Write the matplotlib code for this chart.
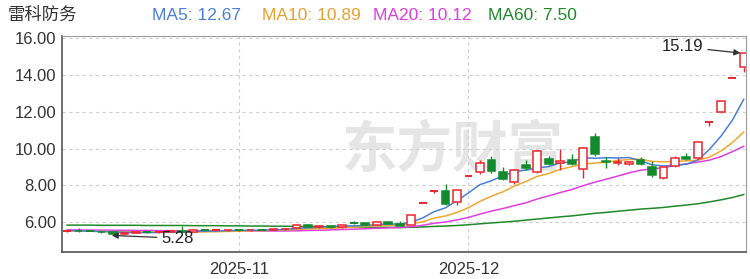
import matplotlib
matplotlib.use("Agg")
import matplotlib.pyplot as plt

# 日K数据 (开, 高, 低, 收)
opens = [5.50, 5.53, 5.50, 5.48, 5.45, 5.36, 5.42, 5.46, 5.44, 5.47,
         5.52, 5.48, 5.56, 5.53, 5.55, 5.58, 5.56, 5.60, 5.58, 5.62,
         5.68, 5.86, 5.72, 5.78, 5.72, 5.93, 5.95, 5.84, 6.00, 5.90,
         5.86, 7.02, 7.72, 7.68, 7.08, 8.50, 8.70, 9.40, 8.72, 8.18,
         9.10, 8.70, 9.45, 9.20, 9.40, 8.88, 10.65, 9.32, 9.22, 9.14,
         9.38, 9.00, 8.38, 9.03, 9.55, 9.50, 11.42, 12.00, 13.82, 14.45]
highs = [5.55, 5.68, 5.53, 5.50, 5.47, 5.46, 5.49, 5.48, 5.50, 5.58,
         5.78, 5.60, 5.58, 5.58, 5.60, 5.60, 5.63, 5.62, 5.65, 5.68,
         5.92, 5.90, 5.82, 5.80, 5.86, 6.08, 5.98, 6.06, 6.04, 6.05,
         6.38, 7.02, 7.72, 8.06, 7.76, 8.50, 9.35, 9.62, 8.97, 8.90,
         9.40, 9.90, 9.58, 9.95, 9.68, 10.10, 10.86, 9.52, 9.48, 9.32,
         9.55, 9.30, 9.00, 9.62, 9.78, 10.38, 11.42, 12.56, 13.82, 15.19]
lows = [5.47, 5.48, 5.46, 5.42, 5.28, 5.32, 5.40, 5.41, 5.42, 5.45,
        5.46, 5.46, 5.50, 5.50, 5.52, 5.53, 5.54, 5.55, 5.56, 5.58,
        5.66, 5.72, 5.70, 5.70, 5.70, 5.86, 5.82, 5.82, 5.88, 5.78,
        5.84, 7.02, 7.60, 6.95, 6.92, 8.50, 8.62, 8.65, 8.30, 8.05,
        8.85, 8.65, 9.10, 8.85, 9.10, 8.40, 9.57, 8.92, 9.12, 9.10,
        9.12, 8.43, 8.35, 9.00, 9.38, 9.45, 11.25, 11.95, 13.82, 14.18]
closes = [5.52, 5.50, 5.48, 5.45, 5.38, 5.43, 5.46, 5.44, 5.47, 5.50,
          5.48, 5.56, 5.53, 5.55, 5.58, 5.56, 5.60, 5.58, 5.62, 5.65,
          5.86, 5.75, 5.78, 5.74, 5.82, 5.90, 5.85, 6.02, 5.92, 5.80,
          6.38, 7.02, 7.72, 7.00, 7.73, 8.50, 9.24, 8.76, 8.35, 8.86,
          8.92, 9.84, 9.15, 9.32, 9.15, 10.05, 9.70, 9.28, 9.26, 9.28,
          9.18, 8.58, 8.97, 9.51, 9.45, 10.38, 11.42, 12.56, 13.82, 15.19]

# 均线
ma5 = [5.55, 5.53, 5.51, 5.49, 5.47, 5.45, 5.44, 5.43, 5.44, 5.46,
       5.47, 5.49, 5.51, 5.52, 5.54, 5.56, 5.56, 5.57, 5.59, 5.60,
       5.66, 5.69, 5.73, 5.76, 5.79, 5.80, 5.82, 5.87, 5.90, 5.90,
       5.99, 6.23, 6.57, 6.78, 7.17, 7.59, 8.04, 8.25, 8.52, 8.74,
       8.83, 8.95, 9.02, 9.22, 9.28, 9.50, 9.47, 9.50, 9.49, 9.51,
       9.34, 9.12, 9.05, 9.10, 9.14, 9.38, 9.95, 10.66, 11.53, 12.67]
ma10 = [5.52, 5.52, 5.51, 5.50, 5.49, 5.48, 5.47, 5.47, 5.46, 5.46,
        5.46, 5.47, 5.47, 5.48, 5.50, 5.51, 5.53, 5.54, 5.56, 5.57,
        5.61, 5.63, 5.65, 5.67, 5.70, 5.73, 5.76, 5.80, 5.83, 5.84,
        5.90, 6.02, 6.22, 6.34, 6.53, 6.79, 7.13, 7.41, 7.65, 7.96,
        8.21, 8.49, 8.64, 8.87, 9.01, 9.16, 9.21, 9.26, 9.35, 9.40,
        9.42, 9.30, 9.28, 9.30, 9.33, 9.36, 9.53, 9.86, 10.32, 10.89]
ma20 = [5.58, 5.58, 5.57, 5.57, 5.56, 5.56, 5.55, 5.55, 5.54, 5.54,
        5.53, 5.53, 5.53, 5.52, 5.52, 5.52, 5.52, 5.52, 5.52, 5.52,
        5.53, 5.55, 5.56, 5.58, 5.60, 5.62, 5.64, 5.67, 5.69, 5.71,
        5.75, 5.83, 5.94, 6.01, 6.12, 6.26, 6.44, 6.60, 6.74, 6.90,
        7.05, 7.26, 7.43, 7.61, 7.77, 7.98, 8.17, 8.33, 8.50, 8.68,
        8.82, 8.89, 8.96, 9.08, 9.17, 9.26, 9.37, 9.56, 9.83, 10.12]
ma60 = [5.84, 5.84, 5.84, 5.83, 5.83, 5.83, 5.83, 5.82, 5.82, 5.82,
        5.82, 5.81, 5.81, 5.81, 5.80, 5.80, 5.79, 5.79, 5.78, 5.78,
        5.77, 5.76, 5.76, 5.75, 5.74, 5.73, 5.73, 5.72, 5.72, 5.71,
        5.72, 5.74, 5.77, 5.79, 5.82, 5.86, 5.91, 5.96, 6.00, 6.05,
        6.11, 6.17, 6.23, 6.29, 6.34, 6.41, 6.48, 6.53, 6.59, 6.65,
        6.71, 6.75, 6.80, 6.87, 6.93, 7.00, 7.10, 7.21, 7.34, 7.50]

month_pos = [15, 35]
month_labels = ["2025-11", "2025-12"]
y_ticks = [6, 8, 10, 12, 14, 16]

RED = "#e8262d"
GREEN = "#138a2e"
FONT = ["Liberation Sans", "Noto Sans CJK SC", "DejaVu Sans"]
plt.rcParams["font.family"] = FONT

fig = plt.figure(figsize=(7.5, 2.79), dpi=100)
ax = fig.add_axes([0.0827, 0.0968, 0.912, 0.774])

# 水印
ax.text(33.6, 9.85, "东方财富", fontsize=40, fontweight="bold", color="#e5e5e5",
        ha="center", va="center", zorder=0, family=["Noto Sans CJK SC"])

# 网格
for y in y_ticks:
    ax.axhline(y, color="#cfcfcf", lw=0.8, ls=(0, (3, 3)), zorder=1)
for x in month_pos:
    ax.axvline(x, color="#cfcfcf", lw=0.8, ls=(0, (3, 3)), zorder=1)

# 均线
xs = list(range(len(closes)))
ax.plot(xs, ma60, color="#1f8a2a", lw=1.1, zorder=2)
ax.plot(xs, ma20, color="#e03ee0", lw=1.1, zorder=2)
ax.plot(xs, ma10, color="#f0a830", lw=1.1, zorder=2)
ax.plot(xs, ma5, color="#4a7fd6", lw=1.1, zorder=2)

# K线
w = 0.68
for i in xs:
    o, h, l, c = opens[i], highs[i], lows[i], closes[i]
    up = c >= o
    col = RED if up else GREEN
    lo_b, hi_b = min(o, c), max(o, c)
    ax.vlines(i, l, lo_b, color=col, lw=1, zorder=3)
    ax.vlines(i, hi_b, h, color=col, lw=1, zorder=3)
    height = hi_b - lo_b
    if height < 0.03:
        ax.hlines(hi_b, i - w / 2, i + w / 2, color=col, lw=1.4, zorder=4)
    else:
        ax.bar(i, height, bottom=lo_b, width=w, facecolor="white" if up else col,
               edgecolor=col, lw=1.1, zorder=4)

# 最高/最低标注
ax.annotate("15.19", xy=(58.7, 15.19), xytext=(53.7, 15.52), fontsize=12,
            color="#222222", ha="center", va="center", zorder=5,
            arrowprops=dict(arrowstyle="-|>", color="#333333", lw=0.9,
                            mutation_scale=9, shrinkA=1, shrinkB=0))
ax.annotate("5.28", xy=(3.9, 5.28), xytext=(9.6, 5.13), fontsize=12,
            color="#222222", ha="center", va="center", zorder=5,
            arrowprops=dict(arrowstyle="-|>", color="#333333", lw=0.9,
                            mutation_scale=9, shrinkA=1, shrinkB=0))

ax.set_xlim(-0.44, 59.2)
ax.set_ylim(4.38, 16.11)
ax.set_yticks(y_ticks)
ax.set_yticklabels(["%.2f" % v for v in y_ticks])
ax.set_xticks(month_pos)
ax.set_xticklabels(month_labels)
ax.tick_params(axis="both", length=0, labelsize=12, colors="#333333")
ax.tick_params(axis="y", pad=4)
ax.tick_params(axis="x", pad=7)
for s in ["top", "right"]:
    ax.spines[s].set_color("#9a9a9a")
for s in ["left", "bottom"]:
    ax.spines[s].set_color("#555555")
    ax.spines[s].set_linewidth(1.2)

# 顶部标题
top_y = 1 - 15 / 279
fig.text(8 / 750, top_y, "雷科防务", fontsize=12.5, color="#333333", va="center")
fig.text(152 / 750, top_y, "MA5: 12.67", fontsize=12.5, color="#4a7fd6", va="center")
fig.text(262 / 750, top_y, "MA10: 10.89", fontsize=12.5, color="#e8a030", va="center")
fig.text(373 / 750, top_y, "MA20: 10.12", fontsize=12.5, color="#e03ee0", va="center")
fig.text(488 / 750, top_y, "MA60: 7.50", fontsize=12.5, color="#1f8a2a", va="center")

fig.savefig("out.png", dpi=100)
